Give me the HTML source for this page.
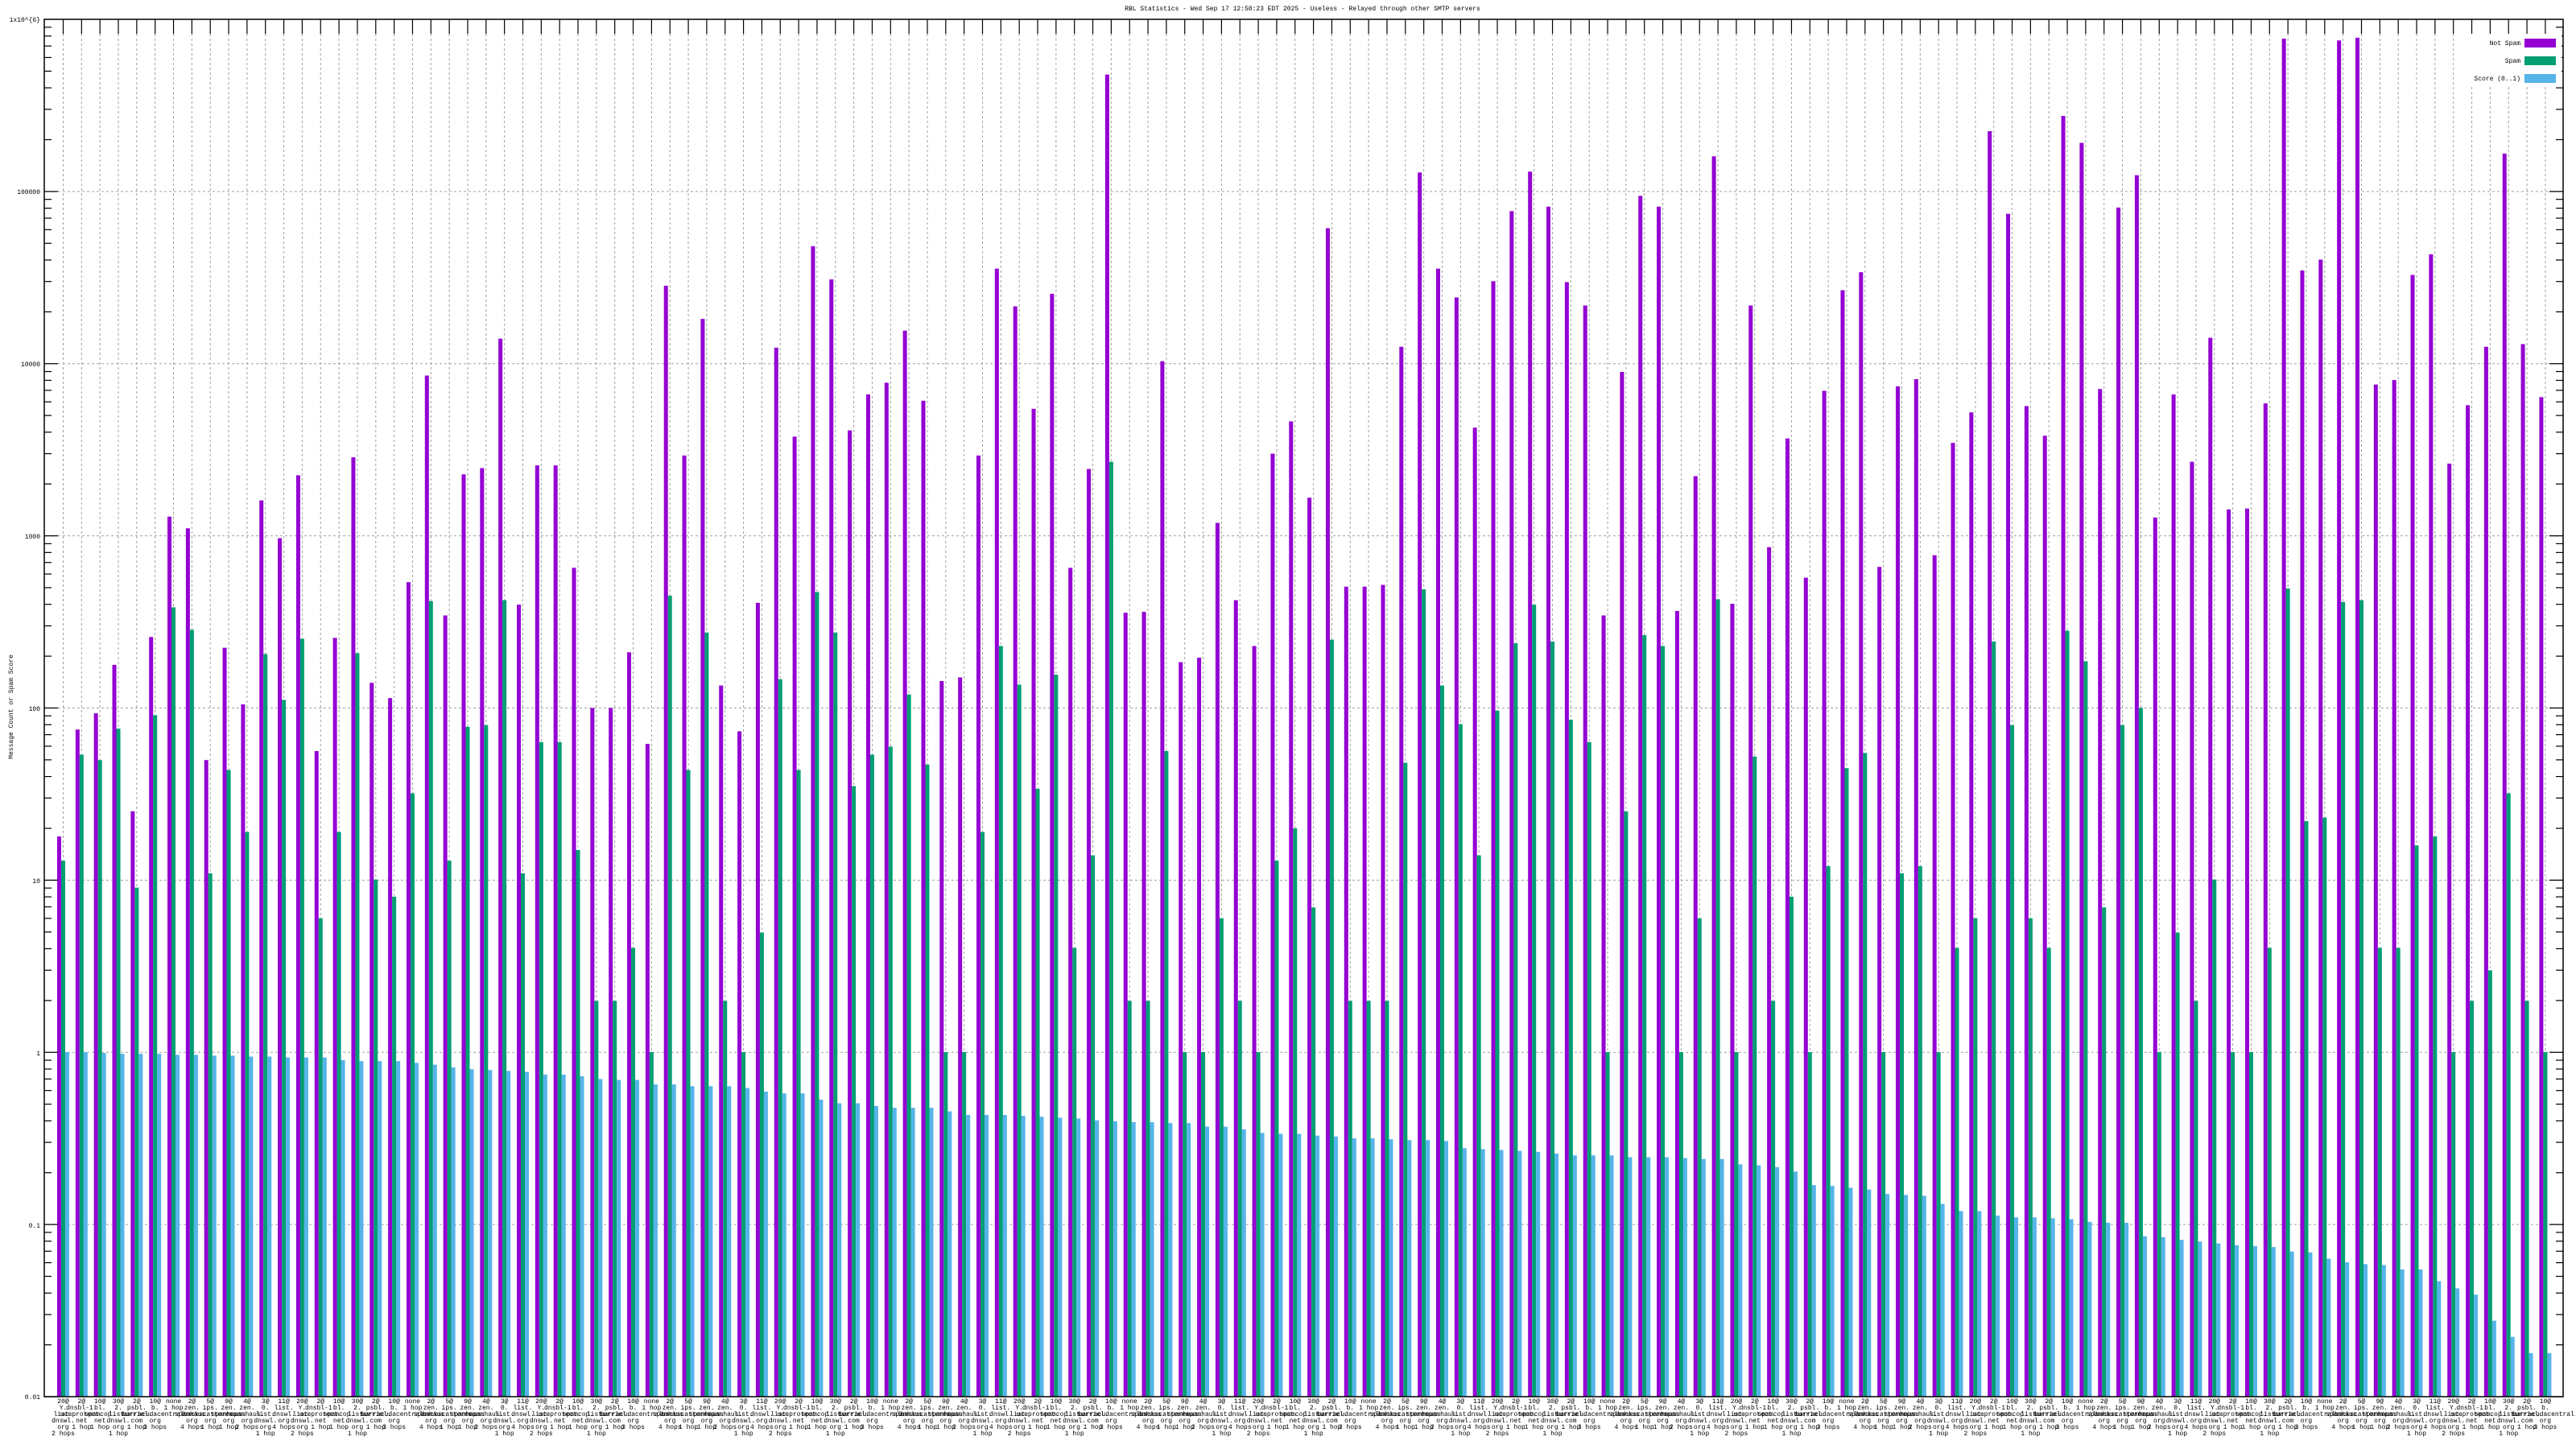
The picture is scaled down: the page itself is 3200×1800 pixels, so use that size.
<!DOCTYPE html>
<html><head><meta charset="utf-8">
<style>
html,body{margin:0;padding:0;background:#fff;}
svg{display:block;}
text{font-family:"Liberation Mono",monospace;font-size:8px;fill:#000;}
</style></head>
<body>
<svg id="s" width="3200" height="1800" viewBox="0 0 3200 1800" xmlns="http://www.w3.org/2000/svg">
<rect width="3200" height="1800" fill="#fff"/>
<g id="grid"></g>
<g id="bars"></g>
<g id="axes"></g>
<text x="1618" y="13" text-anchor="middle">RBL Statistics - Wed Sep 17 12:58:23 EDT 2025 - Useless - Relayed through other SMTP servers</text>
<text transform="translate(16,878) rotate(-90)" text-anchor="middle">Message Count or Spam Score</text>
<g id="ylab" text-anchor="end">
<text x="50" y="27">1x10^{6}</text>
<text x="50" y="241">100000</text>
<text x="50" y="455">10000</text>
<text x="50" y="669">1000</text>
<text x="50" y="883">100</text>
<text x="50" y="1097">10</text>
<text x="50" y="1311">1</text>
<text x="50" y="1525">0.1</text>
<text x="50" y="1738">0.01</text>
</g>
<rect x="3062" y="42" width="120" height="66" fill="#fff"/>
<g text-anchor="end" style="font-size:8.5px">
<text x="3131" y="56">Not Spam</text>
<text x="3131" y="78">Spam</text>
<text x="3131" y="100">Score (0..1)</text>
</g>
<rect x="3136" y="48" width="39" height="11" fill="#9400d3"/>
<rect x="3136" y="70" width="39" height="11" fill="#009e73"/>
<rect x="3136" y="92" width="39" height="11" fill="#56b4e9"/>
<g id="xlab" text-anchor="middle"></g>
</svg>
<script>
var P=[931,812,794,740,903,709,575,588,846,721,784,557,599,529,836,710,509,760,777,648,418,685,528,521,377,673,518,518,632,788,788,726,828,318,
507,355,763,814,671,387,486,274,311,479,439,426,368,446,758,754,507,299,341,455,327,632,522,83,682,681,402,737,732,582,668,719,505,469,
554,254,653,653,651,386,192,299,331,476,313,235,191,230,314,340,685,414,218,230,680,530,174,672,340,609,488,643,435,323,303,631,430,422,
618,493,459,146,238,452,485,129,159,433,231,195,576,439,514,376,567,566,449,43,301,289,45,42,428,423,306,283,516,451,386,171,383,442];
var G=[958,840,846,811,988,796,676,701,972,857,926,728,779,711,1022,926,727,979,998,883,669,958,809,807,668,972,826,826,946,1114,1114,1055,1171,663,
857,704,1114,1171,1038,756,857,659,704,875,840,831,773,851,1171,1171,926,719,762,878,751,1055,952,514,1114,1114,836,1171,1171,1022,1114,1171,958,922,
1010,712,1114,1114,1114,849,656,763,806,952,791,716,673,714,801,826,1171,903,707,719,1171,1022,667,1171,842,1114,998,1171,964,855,838,1171,972,964,
1171,1055,1022,714,807,1022,1055,702,736,1010,807,788,1171,1038,1114,979,1171,1171,1055,655,914,910,670,668,1055,1055,941,931,1171,1114,1080,883,1114,1171];
var B=[1171,1171,1172,1173,1173,1173,1174,1174,1175,1175,1176,1176,1177,1177,1177,1180,1181,1181,1181,1183,1185,1188,1190,1191,1192,1193,1196,1196,1198,1201,1202,1202,1207,1207,
1209,1209,1209,1211,1215,1217,1217,1224,1228,1228,1231,1233,1233,1233,1237,1241,1241,1241,1242,1243,1244,1245,1247,1248,1249,1249,1250,1250,1254,1254,1257,1261,1262,1262,
1264,1265,1267,1267,1268,1269,1269,1270,1278,1279,1280,1281,1282,1284,1286,1286,1286,1288,1288,1288,1289,1290,1290,1296,1297,1299,1304,1319,1320,1322,1324,1329,1330,1331,
1340,1348,1348,1353,1355,1355,1356,1357,1360,1361,1361,1376,1377,1380,1382,1384,1386,1387,1388,1393,1394,1401,1405,1407,1408,1413,1413,1426,1434,1441,1470,1488,1506,1506];
var NS="http://www.w3.org/2000/svg";
function el(p,t,a){var e=document.createElementNS(NS,t);for(var k in a)e.setAttribute(k,a[k]);p.appendChild(e);return e;}
var L=55,R=3184,T=24,Bt=1735,D=(Bt-T)/8,S=0.896,PER=22.84;
var grid=document.getElementById('grid'),bars=document.getElementById('bars'),ax=document.getElementById('axes'),xl=document.getElementById('xlab');
for(var i=1;i<8;i++){var y=T+i*D;el(grid,'line',{x1:L+17,x2:R,y1:y,y2:y,stroke:'#a0a0a0','stroke-width':1,'stroke-dasharray':'3,3'});}
var N=136;
for(var k=0;k<N;k++){
 var x0=71+PER*k,cx=x0+7.5;
 el(grid,'line',{x1:cx,x2:cx,y1:T+18,y2:Bt,stroke:'#a0a0a0','stroke-width':1,'stroke-dasharray':'3,3'});
 el(ax,'line',{x1:cx,x2:cx,y1:T,y2:T+18,stroke:'#000','stroke-width':1.2});
 var yp=P[k]/S,yg=G[k]/S,yb=B[k]/S;
 el(bars,'rect',{x:x0,y:yp,width:5,height:Bt-yp,fill:'#9400d3'});
 el(bars,'rect',{x:x0+5,y:yg,width:5,height:Bt-yg,fill:'#009e73'});
 el(bars,'rect',{x:x0+10,y:yb,width:5,height:Bt-yb,fill:'#56b4e9'});
}
for(var i=0;i<8;i++){
 for(var m=1;m<10;m++){
  var y=Bt-(i+Math.log10(m))*D; var len=(m==1)?17:9;
  el(ax,'line',{x1:L,x2:L+len,y1:y,y2:y,stroke:'#000','stroke-width':1.2});
  el(ax,'line',{x1:R-len,x2:R,y1:y,y2:y,stroke:'#000','stroke-width':1.2});
 }
}
el(ax,'rect',{x:L,y:T,width:R-L,height:Bt-T,fill:'none',stroke:'#000','stroke-width':1.5});
var TPL=[
["2@","zen.","spamhaus.","org","4 hops"],
["9@","zen.","spamhaus.","org","1 hop"],
["3@","0.","list.","dnswl.","org","1 hop"],
["20@","Y.","list.","dnswl.","org","2 hops"],
["10@","bl.","spamcop.","net","1 hop"],
["2@","psbl.","surriel.","com","1 hop"],
["none","1 hop"],
["5@","ips.","backscatterer.","org","1 hop"],
["4@","zen.","spamhaus.","org","2 hops"],
["11@","list.","dnswl.","org","4 hops"],
["2@","dnsbl-1.","uceprotect.","net","1 hop"],
["30@","2.","list.","dnswl.","org","1 hop"],
["10@","b.","barracudacentral.","org","3 hops"]
];
for(var k=0;k<N;k++){
 var cx=71+PER*k+7.5,t=TPL[(k*7+3)%TPL.length];
 var tx=el(xl,'text',{});
 for(var j=0;j<t.length;j++){var ts=el(tx,'tspan',{x:cx,y:1743+j*8});ts.textContent=t[j];}
}
</script>
</body></html>
